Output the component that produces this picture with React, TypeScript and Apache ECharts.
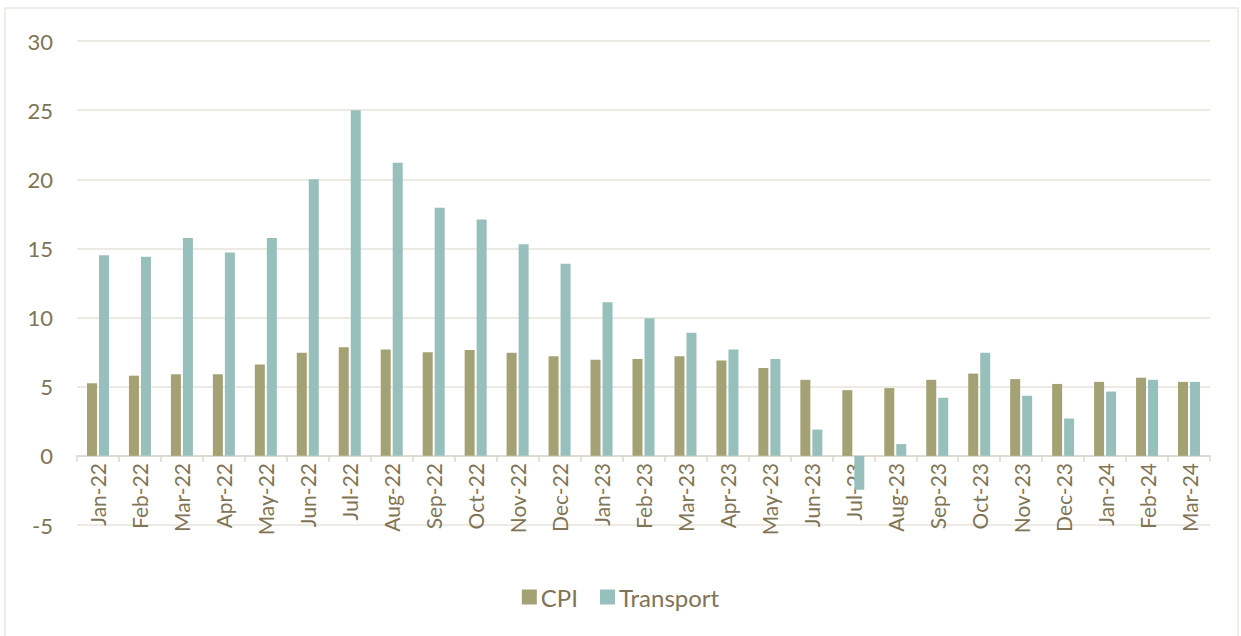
import React, { useEffect, useRef } from "react";
import * as echarts from "echarts";

const categories = [
  "Jan-22", "Feb-22", "Mar-22", "Apr-22", "May-22", "Jun-22", "Jul-22", "Aug-22", "Sep-22",
  "Oct-22", "Nov-22", "Dec-22", "Jan-23", "Feb-23", "Mar-23", "Apr-23", "May-23", "Jun-23",
  "Jul-23", "Aug-23", "Sep-23", "Oct-23", "Nov-23", "Dec-23", "Jan-24", "Feb-24", "Mar-24",
];

const cpi = [
  5.25, 5.8, 5.9, 5.9, 6.6, 7.45, 7.85, 7.7, 7.5,
  7.65, 7.45, 7.2, 6.95, 7.0, 7.2, 6.9, 6.35, 5.5,
  4.75, 4.9, 5.5, 5.95, 5.55, 5.2, 5.35, 5.65, 5.35,
];

const transport = [
  14.5, 14.4, 15.75, 14.7, 15.75, 20.0, 25.0, 21.2, 17.95,
  17.1, 15.3, 13.9, 11.1, 9.95, 8.9, 7.7, 7.0, 1.9,
  -2.45, 0.85, 4.2, 7.45, 4.35, 2.7, 4.65, 5.5, 5.35,
];

const yMin = -5;
const yMax = 30;
const yInterval = 5;

const TEXT = "#7f7455";
const GRID = "#e7e3db";
const FONT = "Lato, 'Open Sans', sans-serif";

export default function App() {
  const ref = useRef<HTMLDivElement>(null);
  useEffect(() => {
    if (!ref.current) return;
    const chart = echarts.init(ref.current, null, { renderer: "svg" });
    chart.setOption({
      animation: false,
      backgroundColor: "#ffffff",
      textStyle: { fontFamily: FONT, color: TEXT },
      graphic: [
        {
          type: "rect",
          shape: { x: 5, y: 8, width: 1233, height: 640 },
          style: { fill: "none", stroke: "#ece8e1", lineWidth: 1.5 },
          silent: true,
        },
      ],
      grid: { left: 77, right: 31, top: 41, bottom: 111, containLabel: false },
      legend: {
        top: 580,
        left: "center",
        itemWidth: 15,
        itemHeight: 15,
        itemGap: 22,
        icon: "rect",
        textStyle: { color: TEXT, fontSize: 24, fontFamily: FONT, padding: [0, 0, 0, -1] },
        data: ["CPI", "Transport"],
      },
      xAxis: {
        type: "category",
        data: categories,
        axisLine: { onZero: true, lineStyle: { color: "#dcd6cb", width: 1.5 } },
        axisTick: { show: true, length: 6, lineStyle: { color: "#dcd6cb", width: 1.5 } },
        axisLabel: {
          rotate: 90,
          color: TEXT,
          fontSize: 21,
          margin: -62,
          interval: 0,
          fontFamily: FONT,
        },
      },
      yAxis: {
        type: "value",
        min: yMin,
        max: yMax,
        interval: yInterval,
        axisLine: { show: false },
        axisTick: { show: false },
        axisLabel: {
          color: TEXT,
          fontSize: 22,
          margin: 24,
          fontFamily: FONT,
        },
        splitLine: { lineStyle: { color: GRID, width: 1.5 } },
      },
      series: [
        {
          name: "CPI",
          type: "bar",
          data: cpi,
          itemStyle: { color: "#a4a274" },
          barWidth: 10,
          barGap: "20%",
        },
        {
          name: "Transport",
          type: "bar",
          data: transport,
          itemStyle: { color: "#97bfbb" },
          barWidth: 10,
          barGap: "20%",
        },
      ],
    });
    return () => chart.dispose();
  }, []);
  return (
    <div
      ref={ref}
      style={{ position: "fixed", left: 0, top: 0, width: 1241, height: 636 }}
    />
  );
}
